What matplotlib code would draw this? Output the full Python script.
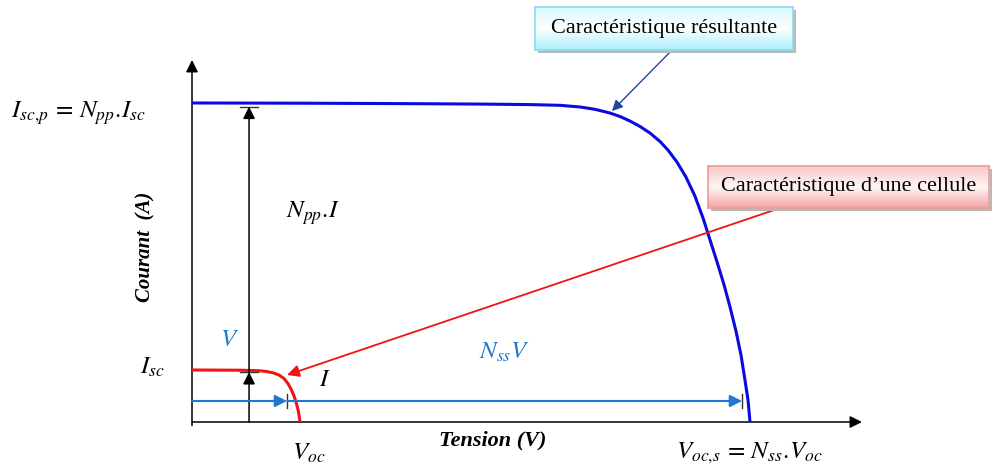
import numpy as np
import matplotlib
matplotlib.use("Agg")
from matplotlib import pyplot as plt
from matplotlib.patches import Rectangle
from matplotlib.colors import LinearSegmentedColormap

plt.rcParams['mathtext.fontset'] = 'stix'
plt.rcParams['font.family'] = ['Liberation Serif', 'DejaVu Serif']

# Caracteristique d'une cellule (V, A)
cell_v = [0, 0.267, 0.367, 0.411, 0.450, 0.483, 0.511, 0.533, 0.550, 0.567,
          0.581, 0.592, 0.600]
cell_i = [1.0, 0.996, 0.987, 0.973, 0.946, 0.904, 0.837, 0.740, 0.635, 0.500,
          0.346, 0.192, 0.0]

# Caracteristique resultante (V, A)
res_v = [0, 0.6, 1.156, 1.6, 1.878, 2.044, 2.156, 2.239, 2.322, 2.378, 2.433,
         2.489, 2.544, 2.6, 2.644, 2.694, 2.744, 2.794, 2.839, 2.878, 2.917,
         2.956, 2.989, 3.022, 3.05, 3.072, 3.089, 3.1]
res_i = [6.135, 6.131, 6.123, 6.114, 6.104, 6.090, 6.058, 6.013, 5.942, 5.875,
         5.788, 5.683, 5.558, 5.394, 5.231, 5.0, 4.712, 4.346, 3.923, 3.5,
         3.077, 2.635, 2.212, 1.75, 1.288, 0.808, 0.423, 0.0]

isc = 1.0
isc_p = 6.135
v_mark = 0.528      # fin de la fleche V
voc_s_mark = 3.056  # fin de la fleche Nss.V
i_arrow_x = 0.317   # position des fleches verticales
v_arrow_y = 0.404   # hauteur des fleches horizontales

W, H = 992, 465
fig = plt.figure(figsize=(W / 100, H / 100), dpi=100)
fig.patch.set_facecolor('white')

# origine du repere en pixels: (192, 422), fleches jusqu'a (862, 60)
ax = fig.add_axes([192 / W, (H - 422) / H, (862 - 192) / W, (422 - 60) / H])
ax.patch.set_visible(False)
ax.set_xlim(0, 670 / 180)
ax.set_ylim(0, 362 / 52)
ax.set_axis_off()

# axes avec fleches
ax.annotate('', xy=(1, 0), xytext=(0, 0), xycoords='axes fraction',
            arrowprops=dict(arrowstyle='-|>', color='black', lw=1.1,
                            mutation_scale=18, shrinkA=0, shrinkB=0))
ax.annotate('', xy=(0, 1), xytext=(0, -0.01), xycoords='axes fraction',
            arrowprops=dict(arrowstyle='-|>', color='black', lw=1.1,
                            mutation_scale=18, shrinkA=0, shrinkB=0))

# courbes
ax.plot(res_v, res_i, color='#0a0ae0', lw=2.2, solid_capstyle='butt',
        solid_joinstyle='round', zorder=3)
ax.plot(cell_v, cell_i, color='#f01414', lw=2.2, solid_capstyle='butt',
        solid_joinstyle='round', zorder=3)


def bar_arrow(start, end, color, lw, vertical):
    ax.annotate('', xy=end, xytext=start,
                arrowprops=dict(arrowstyle='-|>', color=color, lw=lw,
                                mutation_scale=18, shrinkA=0, shrinkB=0))
    if vertical:
        ax.plot([end[0] - 0.05, end[0] + 0.05], [end[1], end[1]],
                color='#333333', lw=1.0)
    else:
        ax.plot([end[0], end[0]], [end[1] - 0.13, end[1] + 0.13],
                color='#333333', lw=1.0)


# fleches verticales (courant)
bar_arrow((i_arrow_x, 0), (i_arrow_x, isc * 0.96), 'black', 1.1, True)
bar_arrow((i_arrow_x, isc * 0.96), (i_arrow_x, isc_p - 0.07), 'black', 1.1, True)

# fleches horizontales (tension)
bar_arrow((0, v_arrow_y), (v_mark, v_arrow_y), '#1f78d1', 1.5, False)
bar_arrow((v_mark, v_arrow_y), (voc_s_mark, v_arrow_y), '#1f78d1', 1.5, False)

# textes
kw = dict(ha='center', va='center', clip_on=False, fontsize=18)
ax.text(-0.628, 5.942, r'$I_{sc,\!p}\,=\,N_{pp}.\!I_{sc}$', **kw)
ax.text(-0.222, 1.058, r'$I_{sc}$', **kw)
ax.text(0.672, 4.019, r'$N_{pp}.\!I$', **kw)
ax.text(0.211, 1.577, r'$V$', color='#1f78d1', **kw)
ax.text(0.739, 0.808, r'$I$', **kw)
ax.text(1.739, 1.346, r'$N_{ss}V$', color='#1f78d1', **kw)
ax.text(0.65, -0.60, r'$V_{oc}$', **kw)
ax.text(3.094, -0.60, r'$V_{oc,\!s}\,=\,N_{ss}.\!V_{oc}$', **kw)
ax.text(1.672, -0.346, 'Tension (V)', ha='center', va='center', clip_on=False,
        fontsize=16, fontweight='bold', fontstyle='italic')
ax.text(-0.261, 3.365, 'Courant  (A)', ha='center', va='center', clip_on=False,
        fontsize=15, fontweight='bold', fontstyle='italic', rotation=90)


def gradient_box(x0, y0, x1, y1, colors, edge, label):
    # coordonnees en pixels (origine en haut a gauche)
    left, bottom = x0 / W, (H - y1) / H
    w, h = (x1 - x0) / W, (y1 - y0) / H
    shadow = Rectangle((left + 3 / W, bottom - 3 / H), w, h,
                       transform=fig.transFigure, facecolor='#b8b8b8',
                       edgecolor='none', zorder=5)
    fig.patches.append(shadow)
    bax = fig.add_axes([left, bottom, w, h], zorder=6)
    cmap = LinearSegmentedColormap.from_list('g', colors)
    grad = np.linspace(0, 1, 64).reshape(-1, 1)
    bax.imshow(grad, aspect='auto', cmap=cmap, extent=[0, 1, 0, 1])
    bax.set_xticks([])
    bax.set_yticks([])
    for s in bax.spines.values():
        s.set_color(edge)
        s.set_linewidth(1.2)
    bax.text(0.5, 0.5, label, ha='center', va='center', fontsize=16,
             transform=bax.transAxes)


gradient_box(535, 7, 793, 50, ['#d8f8fd', '#ffffff', '#aaeef9'], '#8cdcec',
             'Caractéristique résultante')
gradient_box(708, 166, 989, 208, ['#f9c8c8', '#fff6f6', '#f4a4a4'], '#ee9a9a',
             'Caractéristique d\u2019une cellule')

# fleches des etiquettes
ax.annotate('', xy=(2.333, 5.98), xytext=(2.667, 7.154),
            annotation_clip=False,
            arrowprops=dict(arrowstyle='-|>', color='#1f4a9a', lw=1.0,
                            mutation_scale=16, shrinkA=0, shrinkB=0))
ax.annotate('', xy=(0.528, 0.904), xytext=(3.267, 4.115),
            annotation_clip=False,
            arrowprops=dict(arrowstyle='-|>', color='#f01414', lw=1.3,
                            mutation_scale=18, shrinkA=0, shrinkB=0))

fig.savefig('out.png', dpi=100)
